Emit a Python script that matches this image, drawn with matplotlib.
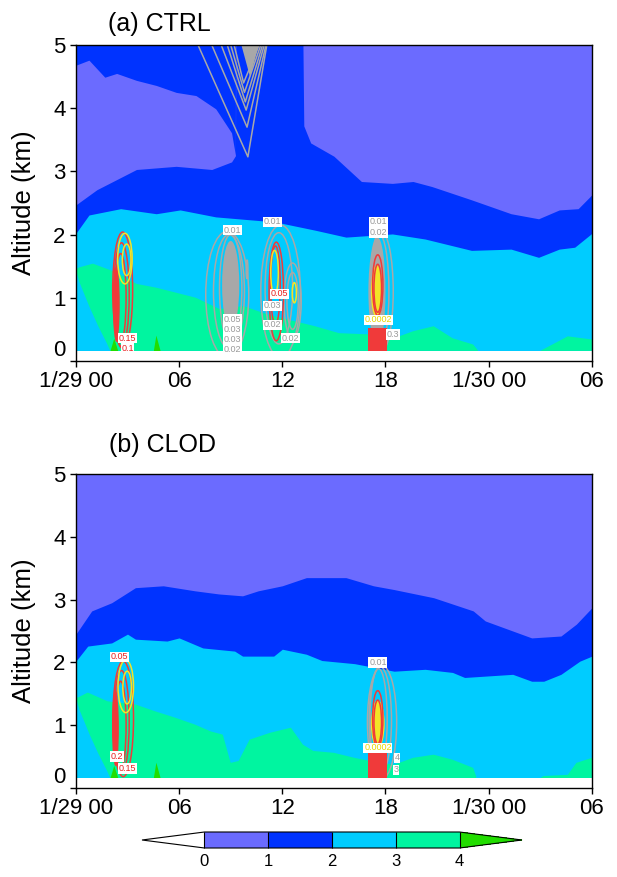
import matplotlib

matplotlib.use("Agg")
import matplotlib.pyplot as plt
import numpy as np
from matplotlib.colors import BoundaryNorm, ListedColormap
from matplotlib.patches import Ellipse
from matplotlib.cm import ScalarMappable

plt.rcParams["font.family"] = ["Liberation Sans", "DejaVu Sans"]

# ---- shared axes / colour scale -------------------------------------------
HOURS = [0, 6, 12, 18, 24, 30]
HOUR_LABELS = ["1/29 00", "06", "12", "18", "1/30 00", "06"]
LEVELS = [0, 1, 2, 3, 4]
BAND_COLORS = ["#6b6bff", "#0033ff", "#00ccff", "#00f5a0"]
UNDER, OVER = "#ffffff", "#22dd00"
GROUND = 0.16  # lowest model level (km); white below

# ---- (a) CTRL : band boundaries (km) ---------------------------------------
A_BLUE_T = [0, 1.22, 3.52, 5.83, 7.9, 9.05, 9.28, 9.3, 13.2, 13.25, 13.65, 15.0,
            16.6, 18.4, 19.6, 20.7, 23.0, 25.3, 26.9, 28.1, 29.2, 30]
A_BLUE_TOP = [2.47, 2.71, 3.03, 3.08, 3.03, 3.15, 3.25, 5.0, 5.0, 3.72, 3.45, 3.24,
              2.84, 2.81, 2.84, 2.76, 2.55, 2.33, 2.25, 2.39, 2.41, 2.63]
A_CAP_T = [0, 0.76, 1.68, 2.37, 3.52, 4.67, 5.83, 6.98, 8.13, 9.05, 9.28]
A_CAP_BOTTOM = [4.68, 4.76, 4.49, 4.55, 4.44, 4.36, 4.25, 4.2, 3.99, 3.61, 3.25]
A_CYAN_T = [0, 0.76, 2.6, 4.67, 6.06, 8.13, 11.6, 13.9, 15.7, 18.4, 20.3, 23.0,
            25.3, 26.9, 28.1, 29.0, 30]
A_CYAN_TOP = [2.02, 2.31, 2.41, 2.33, 2.39, 2.28, 2.2, 2.07, 1.96, 2.01, 1.93,
              1.75, 1.77, 1.64, 1.77, 1.80, 2.02]
A_GREEN_T = [0, 0.18, 0.99, 2.37, 3.52, 4.67, 5.83, 6.98, 8.36, 9.74, 11.1, 12.7,
             13.9, 15.3, 17.1, 18.5, 19.6, 20.8, 21.9, 23.1, 23.4, 27.0, 27.7,
             28.6, 30]
A_GREEN_TOP = [1.45, 1.48, 1.54, 1.40, 1.22, 1.16, 1.08, 1.0, 0.82, 0.87, 0.74,
               0.63, 0.55, 0.44, 0.42, 0.36, 0.47, 0.55, 0.36, 0.26, 0.16, 0.16,
               0.26, 0.39, 0.34]

# ---- (b) CLOD : band boundaries (km) ---------------------------------------
B_BLUE_T = [0, 0.92, 2.08, 3.46, 5.08, 6.92, 8.31, 9.69, 10.6, 12.0, 13.4, 15.7,
            17.3, 18.5, 20.8, 23.1, 23.8, 25.4, 26.5, 28.2, 29.1, 30]
B_BLUE_TOP = [2.45, 2.82, 2.95, 3.19, 3.22, 3.14, 3.09, 3.06, 3.14, 3.22, 3.35,
              3.35, 3.22, 3.16, 3.03, 2.82, 2.66, 2.5, 2.39, 2.42, 2.61, 2.87]
B_CYAN_T = [0, 0.69, 2.08, 3.0, 3.46, 5.3, 6.0, 7.38, 9.23, 9.69, 11.5, 12.0, 13.4,
            14.3, 16.2, 18.5, 20.3, 21.9, 22.6, 25.4, 26.5, 27.2, 28.2, 29.3, 30]
B_CYAN_TOP = [2.02, 2.26, 2.31, 2.45, 2.37, 2.34, 2.39, 2.23, 2.18, 2.1, 2.1, 2.21,
              2.13, 2.03, 1.98, 1.86, 1.89, 1.84, 1.76, 1.81, 1.7, 1.7, 1.81, 2.02,
              2.1]
B_GREEN_T = [0, 0.12, 0.69, 1.85, 3.46, 4.62, 5.77, 6.92, 7.85, 8.54, 9.0, 9.46,
             10.1, 11.3, 12.5, 13.2, 13.8, 15.0, 16.2, 17.1, 18.5, 19.6, 20.8,
             21.9, 23.1, 23.3, 27.0, 27.2, 28.6, 29.1, 30]
B_GREEN_TOP = [1.45, 1.44, 1.52, 1.38, 1.33, 1.22, 1.12, 1.01, 0.9, 0.85, 0.4,
               0.43, 0.77, 0.88, 0.96, 0.69, 0.59, 0.56, 0.48, 0.43, 0.37, 0.48,
               0.53, 0.45, 0.32, 0.16, 0.16, 0.19, 0.21, 0.4, 0.48]

# green layer lifts off the ground at the start (both runs)
GREEN_BOTTOM_T = [0, 0.2, 0.8, 1.3, 1.8, 2.0, 30]
GREEN_BOTTOM = [1.45, 1.25, 0.85, 0.55, 0.28, 0.16, 0.16]
# small >4 patches at the surface: (start, peak, end hour, peak km)
OVER_PATCHES = [(1.98, 2.2, 2.44, 0.36), (4.5, 4.65, 4.9, 0.41)]

# ---- overlaid tracer contours: (hour, km, half-width h, half-height km) ----
A_GRAY_RINGS = [(8.8, 1.05, 1.25, 1.0), (8.9, 1.1, 0.9, 0.9), (9.0, 1.15, 0.65, 0.85),
                (9.95, 1.45, 0.05, 0.15),
                (11.9, 1.1, 1.15, 1.05), (11.8, 1.15, 0.8, 0.88),
                (12.6, 0.95, 0.5, 0.6), (12.6, 0.95, 0.33, 0.45),
                (17.75, 1.1, 0.7, 0.95), (17.65, 1.1, 0.55, 0.9)]
A_GRAY_BLOBS = [(9.0, 1.2, 0.5, 0.7), (17.55, 1.1, 0.45, 0.85)]
A_RED_RINGS = [(2.72, 1.12, 0.58, 0.92), (2.65, 1.05, 0.45, 0.82),
               (2.6, 1.0, 0.32, 0.7),
               (11.65, 1.1, 0.42, 0.78), (11.6, 1.2, 0.28, 0.62),
               (17.55, 1.2, 0.3, 0.48), (17.55, 1.15, 0.22, 0.38)]
A_RED_BLOBS = [(2.35, 0.9, 0.2, 0.6)]
A_YELLOW_RINGS = [(2.85, 1.62, 0.42, 0.4), (2.95, 1.6, 0.25, 0.25),
                  (11.55, 1.4, 0.22, 0.35), (12.7, 1.08, 0.12, 0.16)]
A_YELLOW_BLOBS = [(17.5, 1.1, 0.35, 0.42)]
# near-surface red block under the 18 h plume: start hour, end hour, top km
A_RED_BOX = (17.0, 18.1, 0.52)
# upper-level gray plume in CTRL: apex hour, apex km, left / right hour at 5 km
A_V_APEX_T = [10.0, 9.95, 9.9, 9.85, 9.8, 9.75]
A_V_APEX_Z = [3.23, 3.7, 3.97, 4.1, 4.25, 4.4]
A_V_LEFT = [7.1, 7.9, 8.45, 8.8, 9.0, 9.2]
A_V_RIGHT = [11.1, 11.05, 10.95, 10.85, 10.75, 10.65]
A_LABELS = [(3.0, 0.36, "0.15", "red"), (3.0, 0.2, "0.1", "red"),
            (9.1, 2.07, "0.01", "gray"), (9.1, 0.66, "0.05", "gray"),
            (9.1, 0.5, "0.03", "gray"), (9.1, 0.34, "0.03", "gray"),
            (9.1, 0.18, "0.02", "gray"),
            (11.45, 2.2, "0.01", "gray"), (11.45, 0.87, "0.03", "gray"),
            (11.85, 1.06, "0.05", "red"), (11.45, 0.57, "0.02", "gray"),
            (12.45, 0.36, "0.02", "gray"),
            (17.57, 2.2, "0.01", "gray"), (17.57, 2.03, "0.02", "gray"),
            (17.57, 0.65, "0.0002", "yellow"), (18.45, 0.42, "0.3", "gray")]

B_GRAY_RINGS = [(17.8, 1.05, 0.85, 0.9), (17.7, 1.08, 0.65, 0.85),
                (17.6, 1.1, 0.5, 0.8)]
B_GRAY_BLOBS = []
B_RED_RINGS = [(2.75, 1.1, 0.6, 0.92), (2.65, 1.05, 0.45, 0.82),
               (2.6, 1.0, 0.32, 0.7),
               (17.55, 1.1, 0.3, 0.45), (17.55, 1.05, 0.22, 0.35)]
B_RED_BLOBS = [(2.3, 0.95, 0.2, 0.6)]
B_YELLOW_RINGS = [(2.9, 1.62, 0.45, 0.42), (2.98, 1.6, 0.25, 0.26)]
B_YELLOW_BLOBS = [(17.55, 1.02, 0.4, 0.38)]
B_RED_BOX = (17.0, 18.1, 0.56)
B_LABELS = [(2.55, 2.09, "0.05", "red"), (2.4, 0.5, "0.2", "red"),
            (3.0, 0.31, "0.15", "red"), (17.56, 2.0, "0.01", "gray"),
            (17.56, 0.64, "0.0002", "yellow"), (18.66, 0.48, "4", "gray"),
            (18.6, 0.29, "3", "gray")]

TRACER = {"gray": "#a8a8a8", "red": "#f03a3a", "yellow": "#f2e427"}
LABEL_TEXT = {"gray": "#9a9a9a", "red": "#e82020", "yellow": "#e8d800"}

CMAP = ListedColormap(BAND_COLORS)
CMAP.set_under(UNDER)
CMAP.set_over(OVER)
NORM = BoundaryNorm(LEVELS, CMAP.N)


def background(ax, blue_t, blue_top, cyan_t, cyan_top, green_t, green_top,
               cap=None):
    grid = np.linspace(0, 30, 1201)
    ground = np.full_like(grid, GROUND)
    ax.fill_between(grid, ground, 5, color=BAND_COLORS[0], lw=0, zorder=1)
    ax.fill_between(grid, ground, np.interp(grid, blue_t, blue_top),
                    color=BAND_COLORS[1], lw=0, zorder=2)
    if cap is not None:
        ct, cb = cap
        g = grid[grid <= ct[-1]]
        ax.fill_between(g, np.interp(g, ct, cb), 5, color=BAND_COLORS[1],
                        lw=0, zorder=2)
    ax.fill_between(grid, ground, np.interp(grid, cyan_t, cyan_top),
                    color=BAND_COLORS[2], lw=0, zorder=3)
    gb = np.interp(grid, GREEN_BOTTOM_T, GREEN_BOTTOM)
    gt = np.interp(grid, green_t, green_top)
    ax.fill_between(grid, gb, gt, where=gt > gb, color=BAND_COLORS[3], lw=0,
                    zorder=4)
    for t0, tp, t1, zp in OVER_PATCHES:
        ax.fill_between([t0, tp, t1], GROUND, [GROUND, zp, GROUND], color=OVER,
                        lw=0, zorder=5)
    ax.fill_between([0, 30], 0, GROUND, color="white", lw=0, zorder=9)


def tracers(ax, gray_blobs, gray, yellow_blobs, red_blobs, red, yellow, red_box,
            labels):
    for blobs, key, z in ((gray_blobs, "gray", 6), (yellow_blobs, "yellow", 7),
                          (red_blobs, "red", 7)):
        for t, zc, w, h in blobs:
            ax.add_patch(Ellipse((t, zc), 2 * w, 2 * h, fc=TRACER[key], ec="none",
                                 zorder=z))
    t0, t1, top = red_box
    ax.fill_between([t0, t1], GROUND, top, color=TRACER["red"], lw=0, zorder=7)
    for rings, key, z in ((gray, "gray", 6), (red, "red", 8), (yellow, "yellow", 8)):
        for t, zc, w, h in rings:
            ax.add_patch(Ellipse((t, zc), 2 * w, 2 * h, fc="none", ec=TRACER[key],
                                 lw=1.1, zorder=z))
    for t, zc, s, key in labels:
        ax.text(t, zc, s, color=LABEL_TEXT[key], fontsize=6.5, ha="center",
                va="center", zorder=12,
                bbox=dict(boxstyle="square,pad=0.08", fc="white", ec="none"))


def style(ax):
    ax.set_xlim(0, 30)
    ax.set_ylim(0, 5)
    ax.set_xticks(HOURS)
    ax.set_xticklabels(HOUR_LABELS)
    ax.set_yticks(range(6))
    ax.tick_params(labelsize=16, direction="out", length=4, width=1)
    # the "0" label sits a little above the bottom corner, clear of "1/29 00"
    ax.yaxis.get_major_ticks()[0].label1.set_verticalalignment("bottom")
    ax.set_ylabel("Altitude (km)", fontsize=18.5)
    ax.yaxis.set_label_coords(-0.078, 0.5)
    for s in ax.spines.values():
        s.set_linewidth(1)
        s.set_zorder(20)


fig = plt.figure(figsize=(6.17, 8.77), dpi=100)
ax_a = fig.add_axes([0.123, 0.5884, 0.8363, 0.3603])
ax_b = fig.add_axes([0.123, 0.1015, 0.8363, 0.358])

background(ax_a, A_BLUE_T, A_BLUE_TOP, A_CYAN_T, A_CYAN_TOP, A_GREEN_T,
           A_GREEN_TOP, cap=(A_CAP_T, A_CAP_BOTTOM))
tracers(ax_a, A_GRAY_BLOBS, A_GRAY_RINGS, A_YELLOW_BLOBS, A_RED_BLOBS,
        A_RED_RINGS, A_YELLOW_RINGS, A_RED_BOX, A_LABELS)
for at, az, l, r in zip(A_V_APEX_T, A_V_APEX_Z, A_V_LEFT, A_V_RIGHT):
    ax_a.plot([l, at, r], [5, az, 5], color=TRACER["gray"], lw=1.1, zorder=6)
ax_a.fill_between([9.6, 10.1, 10.6], [5, 4.5, 5], 5, color=TRACER["gray"],
                  lw=0, zorder=6)
style(ax_a)

background(ax_b, B_BLUE_T, B_BLUE_TOP, B_CYAN_T, B_CYAN_TOP, B_GREEN_T,
           B_GREEN_TOP)
tracers(ax_b, B_GRAY_BLOBS, B_GRAY_RINGS, B_YELLOW_BLOBS, B_RED_BLOBS,
        B_RED_RINGS, B_YELLOW_RINGS, B_RED_BOX, B_LABELS)
style(ax_b)

fig.text(108 / 617, 1 - 24 / 877, "(a) CTRL", fontsize=18, va="center")
fig.text(109 / 617, 1 - 445 / 877, "(b) CLOD", fontsize=18, va="center")

cax = fig.add_axes([142 / 617, 1 - 848 / 877, 380 / 617, 16 / 877])
cb = fig.colorbar(ScalarMappable(norm=NORM, cmap=CMAP), cax=cax,
                  orientation="horizontal", extend="both", extendfrac=0.245,
                  ticks=LEVELS, drawedges=True)
cb.outline.set_linewidth(0.8)
cb.dividers.set_linewidth(0.8)
cax.tick_params(length=0, labelsize=12, pad=4)

fig.savefig("out.png", dpi=100)
